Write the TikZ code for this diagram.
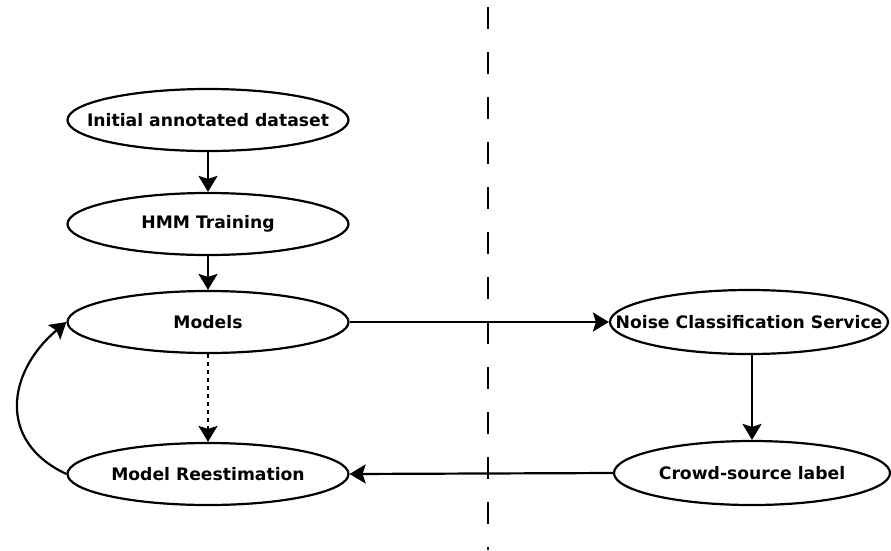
\documentclass[tikz,border=0pt]{standalone}
\usepackage{fontspec}
\setmainfont{DejaVu Sans}
\usetikzlibrary{shapes.geometric,arrows.meta}
\begin{document}
\begin{tikzpicture}[x=1pt,y=1pt,
  proc/.style={ellipse,draw,line width=2.2pt,minimum width=281pt,minimum height=62pt,inner sep=0pt,font=\fontsize{17.2}{19}\selectfont\bfseries},
  arr/.style={line width=2.2pt,-{Stealth[width=19pt,length=16pt,inset=3pt]}}]
\useasboundingbox (0,0) rectangle (891,-550);
\draw[line width=2.8pt,dash pattern=on 22pt off 23pt] (488,-7) coordinate (dtop) -- (488,-550) coordinate (dbot);
\node[proc] (init) at (208,-120) {\makebox[0pt]{Initial annotated dataset}};
\node[proc] (hmm) at (208,-224) {\makebox[0pt]{HMM Training}};
\node[proc] (models) at (208,-322) {\makebox[0pt]{Models}};
\node[proc] (mr) at (208,-474) {\makebox[0pt]{Model Reestimation}};
\node[proc,minimum width=278pt,minimum height=64pt] (ncs) at (749,-322) {\makebox[0pt]{Noise Classification Service}};
\node[proc,minimum width=276pt,minimum height=64pt] (crowd) at (752,-473) {\makebox[0pt]{Crowd-source label}};
\draw[arr] (init) -- (hmm);
\draw[arr] (hmm) -- (models);
\draw[arr,dash pattern=on 4pt off 4pt] (models) -- (mr);
\draw[arr] (models) -- (ncs);
\draw[arr] (ncs.south -| crowd.north) -- (crowd.north);
\draw[arr] (crowd.west) -- (mr.east);
\draw[arr] (mr.west) to[out=155,in=220,looseness=1.3] (models.west);
\end{tikzpicture}
\end{document}
